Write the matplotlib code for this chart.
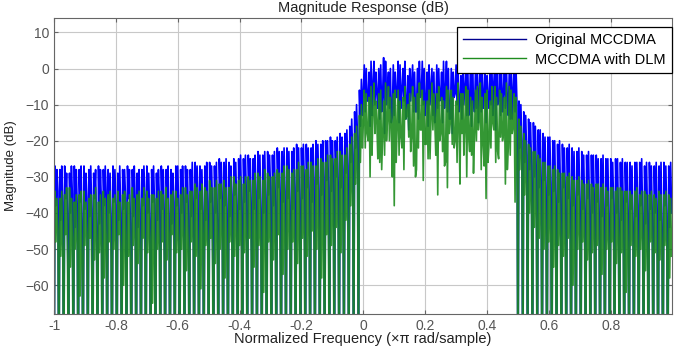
import matplotlib
matplotlib.use("Agg")
import matplotlib.pyplot as plt
import numpy as np

plt.rcParams['font.family'] = ['Liberation Sans', 'DejaVu Sans']

# one entry per frequency segment (128 segments over [-1, 1)), values in dB
# each segment is drawn as: low (null), peak, dip, peak2, dip2
NULL = -100

blue_low = [NULL] * 64 + [
    -6, -9, -4, -11, -7, -5, -13, -8, -6, -10, -4, -12, -7, -9, -5, -11,
    -8, -6, -14, -7, -10, -5, -9, -12, -6, -8, -11, -4, -9, -7, -13, -6,
] + [NULL] * 32

blue_peak = [
    -27, -28, -27, -29, -27, -28, -27, -28, -29, -27, -28, -28, -27, -29, -28, -27,
    -28, -29, -28, -27, -28, -29, -27, -28, -28, -27,
    -28, -27, -28, -26, -27, -27, -26, -27, -25, -26, -26, -25, -25,
    -25, -24, -25, -23, -24, -23, -24, -22, -23, -22, -23, -21, -22,
    -21, -22, -20, -21, -20, -19, -20, -18, -18,
    -16, -12, -6,
    1, -1, 2, 0, 3, -1, 1, 2, 0, -2, 1, 0, 2, -1, 0, 1,
    -1, 2, 0, 1, -2, 0, 1, -1, 2, 0, -1, 1, 0, 2, -1, 1,
    -9, -12, -14, -15, -17, -18, -19, -20, -21, -21, -22, -22, -23, -23, -24, -24,
    -24, -25, -25, -25, -25, -26, -26, -26, -26, -26, -27, -26, -27, -27, -26, -27,
]

blue_dip = [
    -38, -42, -36, -40, -44, -37, -39, -41, -36, -43, -38, -40, -37, -42, -39, -36,
    -41, -44, -38, -40, -37, -42, -39, -36, -43, -38,
    -40, -37, -41, -36, -39, -42, -37, -40, -36, -38, -41, -35, -39,
    -37, -34, -39, -36, -40, -35, -38, -33, -37, -36, -39, -34, -36,
    -33, -37, -32, -35, -31, -34, -30, -33, -29,
    -26, -22, -16,
    -12, -16, -10, -14, -18, -11, -13, -15, -9, -17, -12, -14, -10, -16, -13, -11,
    -15, -12, -18, -10, -14, -13, -16, -11, -12, -15, -10, -17, -13, -11, -14, -12,
    -22, -26, -28, -30, -33, -31, -35, -34, -37, -33, -36, -38, -35, -39, -36, -40,
    -37, -41, -38, -36, -40, -42, -37, -39, -41, -38, -43, -39, -40, -42, -38, -44,
]

blue_peak2 = [
    -28, -27, -29, -27, -28, -27, -29, -27, -28, -28, -27, -29, -28, -27, -28, -28,
    -27, -28, -27, -29, -27, -28, -28, -27, -29, -27,
    -27, -28, -26, -27, -28, -26, -27, -26, -26, -25, -27, -26, -24,
    -24, -25, -24, -24, -23, -24, -23, -23, -22, -23, -22, -22, -21,
    -22, -21, -21, -20, -20, -20, -19, -19, -17,
    -14, -10, -3,
    0, 2, -1, 1, 2, 0, -1, 1, 2, 0, -1, 2, 0, 1, -1, 0,
    2, 0, -1, 1, 0, 2, -1, 0, 1, -2, 1, 0, -1, 1, 0, 0,
    -10, -13, -15, -16, -17, -19, -19, -20, -20, -22, -21, -23, -22, -24, -23, -24,
    -25, -24, -25, -26, -25, -25, -26, -27, -26, -25, -26, -27, -26, -26, -27, -26,
]

blue_dip2 = [
    -34, -37, -40, -35, -38, -42, -36, -39, -44, -37, -35, -41, -38, -40, -36, -43,
    -37, -39, -35, -42, -38, -36, -40, -41, -37, -39,
    -36, -41, -38, -35, -40, -37, -39, -42, -36, -39, -35, -38, -37,
    -35, -38, -34, -39, -36, -33, -37, -35, -34, -38, -33, -36, -32,
    -35, -31, -34, -30, -33, -29, -32, -28, -27,
    -24, -19, -13,
    -9, -13, -7, -12, -10, -15, -8, -11, -14, -9, -12, -8, -13, -10, -15, -9,
    -11, -14, -8, -12, -10, -13, -9, -15, -11, -8, -13, -10, -12, -9, -14, -10,
    -20, -24, -27, -29, -31, -33, -32, -36, -34, -35, -38, -36, -37, -39, -38, -37,
    -40, -39, -41, -38, -42, -39, -40, -43, -38, -41, -40, -42, -39, -44, -41, -40,
]

green_low = [NULL] * 64 + [
    -15, -20, -12, -25, -18, -14, -30, -16, -22, -13, -19, -28, -17, -21, -14, -24,
    -18, -26, -15, -20, -32, -16, -23, -19, -14, -27, -21, -17, -25, -18, -22, -16,
] + [NULL] * 32

green_peak = [
    -34, -36, -35, -33, -37, -35, -34, -36, -35, -37, -34, -35, -36, -34, -35, -37,
    -33, -35, -36, -34, -35, -36, -34, -33, -35, -34,
    -35, -33, -34, -32, -34, -33, -31, -33, -32, -31, -33, -30, -31,
    -32, -30, -31, -29, -31, -29, -30, -28, -29, -27, -29, -28, -27,
    -28, -26, -27, -25, -26, -24, -25, -23, -24,
    -21, -18, -13,
    -6, -8, -4, -7, -9, -5, -7, -6, -8, -10, -5, -7, -6, -9, -4, -7,
    -8, -5, -6, -9, -7, -5, -8, -6, -4, -7, -9, -5, -6, -8, -5, -7,
    -14, -18, -21, -23, -24, -26, -27, -28, -28, -29, -30, -30, -31, -31, -32, -32,
    -32, -33, -33, -33, -34, -33, -34, -34, -34, -35, -34, -35, -35, -34, -35, -35,
]

green_dip = [
    -48, -52, -46, -55, -50, -63, -49, -47, -53, -51, -58, -48, -50, -46, -60, -52,
    -49, -54, -47, -51, -65, -50, -48, -53, -46, -51,
    -50, -56, -48, -52, -61, -49, -47, -54, -50, -58, -48, -52, -49,
    -51, -47, -55, -49, -62, -48, -53, -46, -57, -50, -48, -54, -47,
    -52, -45, -50, -58, -46, -49, -44, -51, -42,
    -38, -32, -26,
    -22, -30, -18, -26, -24, -20, -38, -24, -28, -19, -27, -22, -31, -25, -17, -35,
    -23, -33, -21, -26, -18, -30, -24, -20, -28, -36, -22, -26, -19, -32, -24, -37,
    -28, -35, -40, -44, -47, -50, -48, -55, -49, -52, -47, -60, -50, -48, -53, -51,
    -49, -57, -50, -48, -54, -51, -62, -49, -52, -50, -56, -48, -51, -53, -49, -58,
]

green_peak2 = [
    -36, -34, -33, -36, -35, -34, -37, -35, -33, -35, -36, -34, -35, -37, -34, -35,
    -36, -34, -33, -36, -35, -34, -35, -36, -34, -36,
    -33, -35, -34, -33, -32, -34, -33, -31, -32, -33, -30, -32, -30,
    -30, -31, -29, -30, -28, -30, -29, -29, -27, -28, -28, -26, -27,
    -26, -27, -25, -26, -24, -25, -23, -24, -22,
    -19, -16, -10,
    -7, -5, -9, -6, -4, -8, -6, -9, -5, -7, -8, -4, -9, -6, -7, -5,
    -9, -6, -8, -4, -7, -6, -9, -5, -8, -6, -5, -8, -7, -4, -6, -8,
    -16, -20, -22, -23, -25, -26, -27, -27, -29, -29, -29, -31, -30, -32, -31, -33,
    -32, -32, -34, -33, -33, -34, -34, -35, -33, -34, -35, -34, -36, -35, -34, -36,
]

green_dip2 = [
    -45, -50, -54, -47, -49, -52, -46, -56, -48, -50, -47, -53, -49, -51, -46, -55,
    -48, -50, -52, -47, -49, -51, -54, -46, -50, -48,
    -47, -51, -49, -53, -46, -50, -55, -48, -47, -52, -49, -46, -51,
    -48, -52, -46, -50, -47, -51, -49, -55, -47, -46, -52, -48, -50,
    -47, -50, -45, -48, -52, -44, -47, -43, -46,
    -35, -28, -22,
    -18, -24, -15, -28, -20, -16, -26, -19, -14, -23, -30, -17, -21, -25, -15, -20,
    -27, -18, -22, -16, -24, -19, -29, -17, -21, -26, -15, -23, -20, -28, -18, -25,
    -25, -32, -38, -42, -45, -47, -46, -50, -48, -51, -49, -52, -47, -50, -53, -48,
    -50, -52, -49, -51, -47, -53, -50, -49, -52, -48, -51, -50, -54, -49, -50, -52,
]

xticks = [-1, -0.8, -0.6, -0.4, -0.2, 0, 0.2, 0.4, 0.6, 0.8]
xlabels = ['-1', '-0.8', '-0.6', '-0.4', '-0.2', '0', '0.2', '0.4', '0.6', '0.8']
yticks = [-60, -50, -40, -30, -20, -10, 0, 10]


def build(*parts):
    y = []
    for seg in zip(*parts):
        y += list(seg)
    return np.array(y, dtype=float)


y_orig = build(blue_low, blue_peak, blue_dip, blue_peak2, blue_dip2)
y_dlm = build(green_low, green_peak, green_dip, green_peak2, green_dip2)
freq = np.linspace(-1, 1, len(y_orig), endpoint=False)

fig = plt.figure(figsize=(6.77, 3.46), dpi=100)
ax = fig.add_axes([0.0798, 0.0925, 0.9128, 0.8555])

ax.plot(freq, y_orig, color='#0000ff', lw=1.2, label='Original MCCDMA')
ax.plot(freq, y_dlm, color='#1e8c1e', lw=1.2, alpha=0.9, label='MCCDMA with DLM')

ax.set_xlim(-1, 0.998)
ax.set_ylim(-68, 14)
ax.set_xticks(xticks)
ax.set_xticklabels(xlabels)
ax.set_yticks(yticks)
ax.grid(True, color='#c8c8c8', lw=0.8)
ax.set_axisbelow(True)
ax.tick_params(direction='in', top=True, right=True, length=3, labelsize=10,
               labelcolor='#555555', color='#666666')
for s in ax.spines.values():
    s.set_color('#666666')

ax.set_title('Magnitude Response (dB)', fontsize=10.5, color='#222222', pad=4)
ax.set_xlabel('Normalized Frequency (\u00d7\u03c0 rad/sample)', fontsize=10.5,
              color='#222222', va='bottom')
ax.xaxis.set_label_coords(0.5, -0.107)
ax.set_ylabel('Magnitude (dB)', fontsize=9.5, color='#222222', labelpad=6)

leg = ax.legend(loc='upper right', bbox_to_anchor=(1.0, 0.97), borderaxespad=0,
                fontsize=10.5, fancybox=False, framealpha=1, edgecolor='black',
                handlelength=4.3, borderpad=0.45, labelspacing=0.35,
                handletextpad=0.6)
leg.get_frame().set_linewidth(0.9)
leg._legend_box.sep = 4
for h in leg.get_lines():
    h.set_alpha(1)
    h.set_linewidth(1.0)
leg.get_lines()[0].set_color('#000090')

fig.savefig('out.png', dpi=100)
